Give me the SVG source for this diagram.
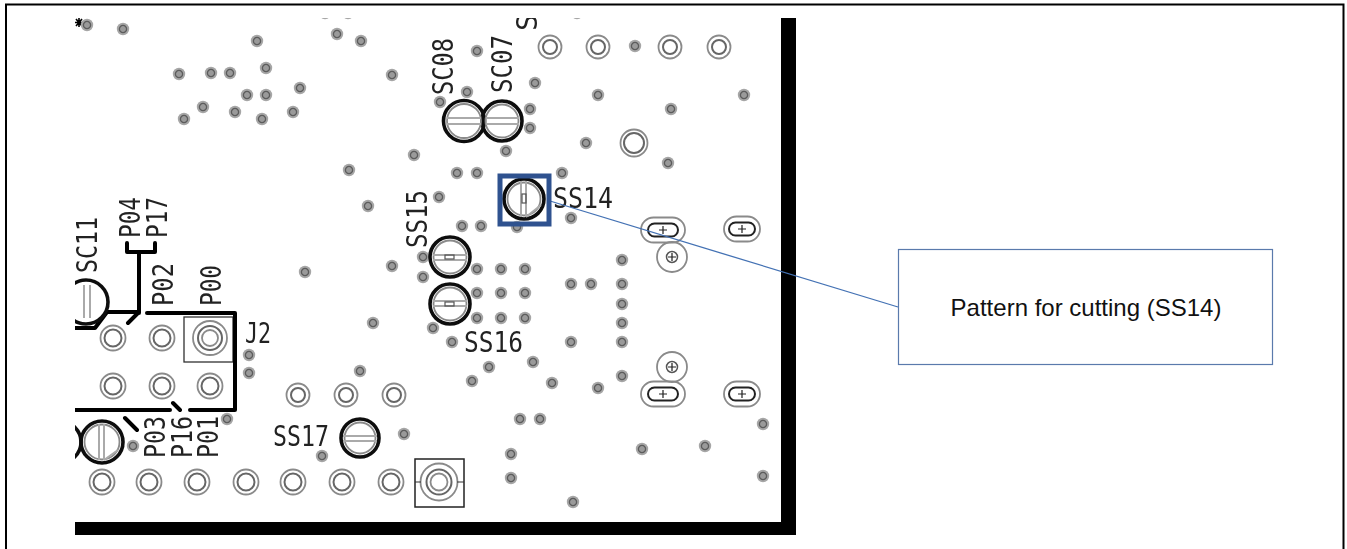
<svg xmlns="http://www.w3.org/2000/svg" width="1347" height="549" viewBox="0 0 1347 549">
<style>
.lbl{font-family:"DejaVu Sans Mono","Liberation Mono",monospace;font-size:28px;fill:#222}
.tr{fill:none;stroke:#000;stroke-width:4;stroke-linecap:round;stroke-linejoin:round}
.cap{fill:none;stroke:#111;stroke-width:3.6}
.g1{fill:none;stroke:#8a8a8a;stroke-width:1.8}
.g2{fill:none;stroke:#666;stroke-width:2}
.slot{fill:none;stroke:#aaa;stroke-width:2}
</style>
<defs>
<filter id="soft" x="-2%" y="-2%" width="104%" height="104%"><feGaussianBlur stdDeviation="0.65"/></filter>
<clipPath id="board"><rect x="75" y="18" width="721" height="517"/></clipPath>
<g id="via"><circle r="6.2" fill="#a6a6a6"/><circle r="3.6" fill="#9a9a9a" stroke="#5c5c5c" stroke-width="1.3"/></g>
<g id="pad"><circle r="12.5" class="g1"/><circle r="8.5" class="g2"/></g>
<g id="pads"><circle r="11.5" class="g1"/><circle r="7" class="g2"/></g>
<g id="ovalL"><rect x="-22" y="-12.5" width="44" height="25" rx="12.5" class="g1"/><rect x="-15" y="-6.5" width="30" height="13" rx="6.5" fill="none" stroke="#222" stroke-width="2"/><path d="M-4 0H4M0-4V4" stroke="#222" stroke-width="1.2"/></g>
<g id="ovalR"><rect x="-18" y="-12.5" width="36" height="25" rx="12.5" class="g1"/><rect x="-13" y="-6.5" width="26" height="13" rx="6.5" fill="none" stroke="#222" stroke-width="2"/><path d="M-4 0H4M0-4V4" stroke="#222" stroke-width="1.2"/></g>
<g id="hole"><circle r="15" class="g1"/><circle r="5.500" fill="none" stroke="#555" stroke-width="1.5"/><path d="M-4 0H4M0-4V4" stroke="#222" stroke-width="1.2"/></g>
</defs>
<rect width="1347" height="549" fill="#fff"/>
<path id="frame" d="M6 549V4.500H1343.500V549" fill="none" stroke="#000" stroke-width="2"/>
<g id="pcb" clip-path="url(#board)" filter="url(#soft)">
<path d="M781 18h15v517H75v-13h706z" fill="#000"/>
<path id="star" d="M79 18v9M75 22.500h8M76 19l6 7M82 19l-6 7" stroke="#000" stroke-width="1.600" fill="none"/>
<g id="vias">
<use href="#via" x="87" y="25"/><use href="#via" x="123" y="29"/><use href="#via" x="257" y="41"/><use href="#via" x="337" y="34"/><use href="#via" x="361" y="41"/><use href="#via" x="179" y="74"/><use href="#via" x="211" y="73"/><use href="#via" x="230" y="73"/><use href="#via" x="266" y="68"/><use href="#via" x="247" y="95"/><use href="#via" x="266" y="95"/><use href="#via" x="300" y="88"/><use href="#via" x="392" y="75"/><use href="#via" x="203" y="107"/><use href="#via" x="184" y="119"/><use href="#via" x="235" y="112"/><use href="#via" x="262" y="119"/><use href="#via" x="293" y="112"/><use href="#via" x="349" y="170"/>
<use href="#via" x="325" y="13"/><use href="#via" x="348" y="13"/><use href="#via" x="577" y="13"/>
<use href="#via" x="477" y="51"/><use href="#via" x="535" y="83"/><use href="#via" x="467" y="92"/><use href="#via" x="440" y="102"/><use href="#via" x="530" y="109"/><use href="#via" x="530" y="128"/><use href="#via" x="598" y="95"/><use href="#via" x="635" y="46"/><use href="#via" x="744" y="95"/><use href="#via" x="671" y="109"/><use href="#via" x="586" y="143"/><use href="#via" x="668" y="163"/><use href="#via" x="506" y="151"/><use href="#via" x="414" y="155"/><use href="#via" x="457" y="173"/><use href="#via" x="477" y="173"/><use href="#via" x="562" y="173"/><use href="#via" x="439" y="197"/><use href="#via" x="462" y="226"/><use href="#via" x="481" y="226"/><use href="#via" x="517" y="227"/><use href="#via" x="571" y="218"/>
<use href="#via" x="423" y="257"/><use href="#via" x="423" y="277"/><use href="#via" x="477" y="269"/><use href="#via" x="501" y="269"/><use href="#via" x="525" y="269"/><use href="#via" x="477" y="293"/><use href="#via" x="501" y="293"/><use href="#via" x="525" y="293"/><use href="#via" x="477" y="318"/><use href="#via" x="501" y="318"/><use href="#via" x="525" y="318"/><use href="#via" x="571" y="284"/><use href="#via" x="591" y="284"/><use href="#via" x="622" y="260"/><use href="#via" x="622" y="284"/><use href="#via" x="622" y="304"/><use href="#via" x="622" y="323"/><use href="#via" x="622" y="342"/><use href="#via" x="433" y="328"/><use href="#via" x="452" y="342"/><use href="#via" x="571" y="342"/><use href="#via" x="533" y="362"/><use href="#via" x="489" y="367"/><use href="#via" x="472" y="381"/><use href="#via" x="552" y="383"/><use href="#via" x="598" y="388"/><use href="#via" x="622" y="376"/><use href="#via" x="520" y="419"/><use href="#via" x="540" y="419"/><use href="#via" x="404" y="434"/><use href="#via" x="511" y="454"/><use href="#via" x="511" y="478"/><use href="#via" x="573" y="502"/><use href="#via" x="642" y="449"/><use href="#via" x="705" y="446"/><use href="#via" x="763" y="424"/><use href="#via" x="763" y="476"/>
<use href="#via" x="305" y="272"/><use href="#via" x="249" y="355"/><use href="#via" x="249" y="373"/><use href="#via" x="227" y="419"/><use href="#via" x="133" y="446"/><use href="#via" x="322" y="456"/><use href="#via" x="360" y="371"/><use href="#via" x="373" y="323"/><use href="#via" x="392" y="266"/><use href="#via" x="368" y="206"/>
</g>
<g id="pads-through">
<use href="#pad" x="113" y="338"/><use href="#pad" x="162" y="338"/><use href="#pad" x="113" y="386"/><use href="#pad" x="162" y="386"/><use href="#pad" x="210" y="386"/>
<use href="#pad" x="102" y="482"/><use href="#pad" x="149" y="482"/><use href="#pad" x="197" y="482"/><use href="#pad" x="246" y="482"/><use href="#pad" x="293" y="482"/><use href="#pad" x="342" y="482"/><use href="#pad" x="391" y="482"/>
<use href="#pads" x="298" y="395"/><use href="#pads" x="346" y="395"/><use href="#pads" x="394" y="395"/>
<use href="#pads" x="550" y="47"/><use href="#pads" x="598" y="47"/><use href="#pads" x="670" y="47"/><use href="#pads" x="719" y="47"/>
<circle cx="634" cy="143" r="13.500" class="g1"/><circle cx="634" cy="143" r="10" class="g2"/>
<use href="#ovalL" x="663" y="230"/><use href="#ovalR" x="742" y="229"/><use href="#ovalL" x="663" y="394"/><use href="#ovalR" x="742" y="394"/>
<use href="#hole" x="672" y="257"/><use href="#hole" x="672" y="367"/>
</g>
<g id="sockets">
<rect x="184" y="317" width="49" height="45" fill="none" stroke="#333" stroke-width="1.300"/>
<circle cx="210" cy="338" r="17" class="g1"/><circle cx="210" cy="338" r="12" class="g2"/><circle cx="210" cy="338" r="8" class="g1"/>
<rect x="415" y="459" width="49" height="48" fill="none" stroke="#222" stroke-width="1.500"/>
<circle cx="439" cy="482" r="18.500" class="g1"/><circle cx="439" cy="482" r="12.500" class="g2"/><circle cx="439" cy="482" r="8.500" class="g1"/>
<path d="M415 482h6M457 482h7" stroke="#333" stroke-width="1.200"/>
</g>
<g id="traces">
<path class="tr" d="M127 243v9h28v-9M139 252v61M75 328H95L107 312H139L128 323M147 313H235V410H190M75 410H170M173 403l7 7M125 418l12 12"/>
</g>
<g id="parts">
<circle class="cap" cx="464" cy="121" r="20.500"/><circle class="cap" cx="502" cy="121" r="20"/>
<circle cx="464" cy="121" r="17" class="g1"/><circle cx="502" cy="121" r="16.500" class="g1"/>
<path class="slot" d="M447 118H481M447 124H481M486 118H519M486 124H519"/>
<circle class="cap" cx="524" cy="199" r="20"/><circle cx="524" cy="199" r="16.500" class="g1"/><path class="slot" d="M521 181V217M526 181V217M526 217L541 205"/><rect x="522" y="194" width="4" height="9" fill="none" stroke="#555" stroke-width="1.200"/>
<circle class="cap" cx="450" cy="257" r="20"/><circle cx="450" cy="257" r="16.500" class="g1"/><path class="slot" d="M433 255H467M433 260H467"/><rect x="445" y="255" width="9" height="4" fill="none" stroke="#555" stroke-width="1.200"/>
<circle class="cap" cx="450" cy="304" r="20"/><circle cx="450" cy="304" r="16.500" class="g1"/><path class="slot" d="M433 301H467M433 306H467"/><rect x="445" y="302" width="9" height="4" fill="none" stroke="#555" stroke-width="1.200"/>
<circle class="cap" cx="360" cy="438" r="19"/><circle cx="360" cy="438" r="15.500" class="g1"/><path class="slot" d="M343 436H377M343 441H377"/>
<circle class="cap" cx="102" cy="442" r="21"/><circle cx="60" cy="442" r="21" class="cap"/><circle cx="102" cy="442" r="17.500" class="g1"/><path class="slot" d="M99 424V460M104 424V460M104 460L118 450"/>
<circle class="cap" cx="86" cy="302" r="22"/><path class="slot" d="M84 285V318M90 285V318"/>
</g>
<g id="labels">
<text class="lbl" x="553" y="208" textLength="60" lengthAdjust="spacingAndGlyphs">SS14</text>
<text class="lbl" x="464" y="352" textLength="59" lengthAdjust="spacingAndGlyphs">SS16</text>
<text class="lbl" x="273" y="446" textLength="56" lengthAdjust="spacingAndGlyphs">SS17</text>
<text class="lbl" x="245" y="343" textLength="26" lengthAdjust="spacingAndGlyphs">J2</text>
<text class="lbl" transform="translate(453 95) rotate(-90)" textLength="57" lengthAdjust="spacingAndGlyphs">SC08</text>
<text class="lbl" transform="translate(512 93) rotate(-90)" textLength="58" lengthAdjust="spacingAndGlyphs">SC07</text>
<text class="lbl" transform="translate(427 248) rotate(-90)" textLength="58" lengthAdjust="spacingAndGlyphs">SS15</text>
<text class="lbl" transform="translate(97 273) rotate(-90)" textLength="56" lengthAdjust="spacingAndGlyphs">SC11</text>
<text class="lbl" transform="translate(140 238) rotate(-90)" textLength="41" lengthAdjust="spacingAndGlyphs">P04</text>
<text class="lbl" transform="translate(167 238) rotate(-90)" textLength="41" lengthAdjust="spacingAndGlyphs">P17</text>
<text class="lbl" transform="translate(173 306) rotate(-90)" textLength="43" lengthAdjust="spacingAndGlyphs">P02</text>
<text class="lbl" transform="translate(221 306) rotate(-90)" textLength="41" lengthAdjust="spacingAndGlyphs">P00</text>
<text class="lbl" transform="translate(165 458) rotate(-90)" textLength="42" lengthAdjust="spacingAndGlyphs">P03</text>
<text class="lbl" transform="translate(192 458) rotate(-90)" textLength="42" lengthAdjust="spacingAndGlyphs">P16</text>
<text class="lbl" transform="translate(218 458) rotate(-90)" textLength="42" lengthAdjust="spacingAndGlyphs">P01</text>
<text class="lbl" transform="translate(537 31) rotate(-90)">S</text>
</g>
</g>
<g id="connectors">
<line x1="550" y1="201" x2="898" y2="307" fill="none" stroke="#4472b4" stroke-width="1.300"/>
</g>
<g id="marker-ss14"><rect x="500" y="176" width="49" height="48" fill="none" stroke="#2f528f" stroke-width="5"/></g>
<g id="callout">
<rect x="898.500" y="249.500" width="374" height="115" fill="#fff" stroke="#5a7aac" stroke-width="1.200"/>
<text x="1086" y="316" text-anchor="middle" font-family="'Liberation Sans',Arial,sans-serif" font-size="24" fill="#111">Pattern for cutting (SS14)</text>
</g>
</svg>
